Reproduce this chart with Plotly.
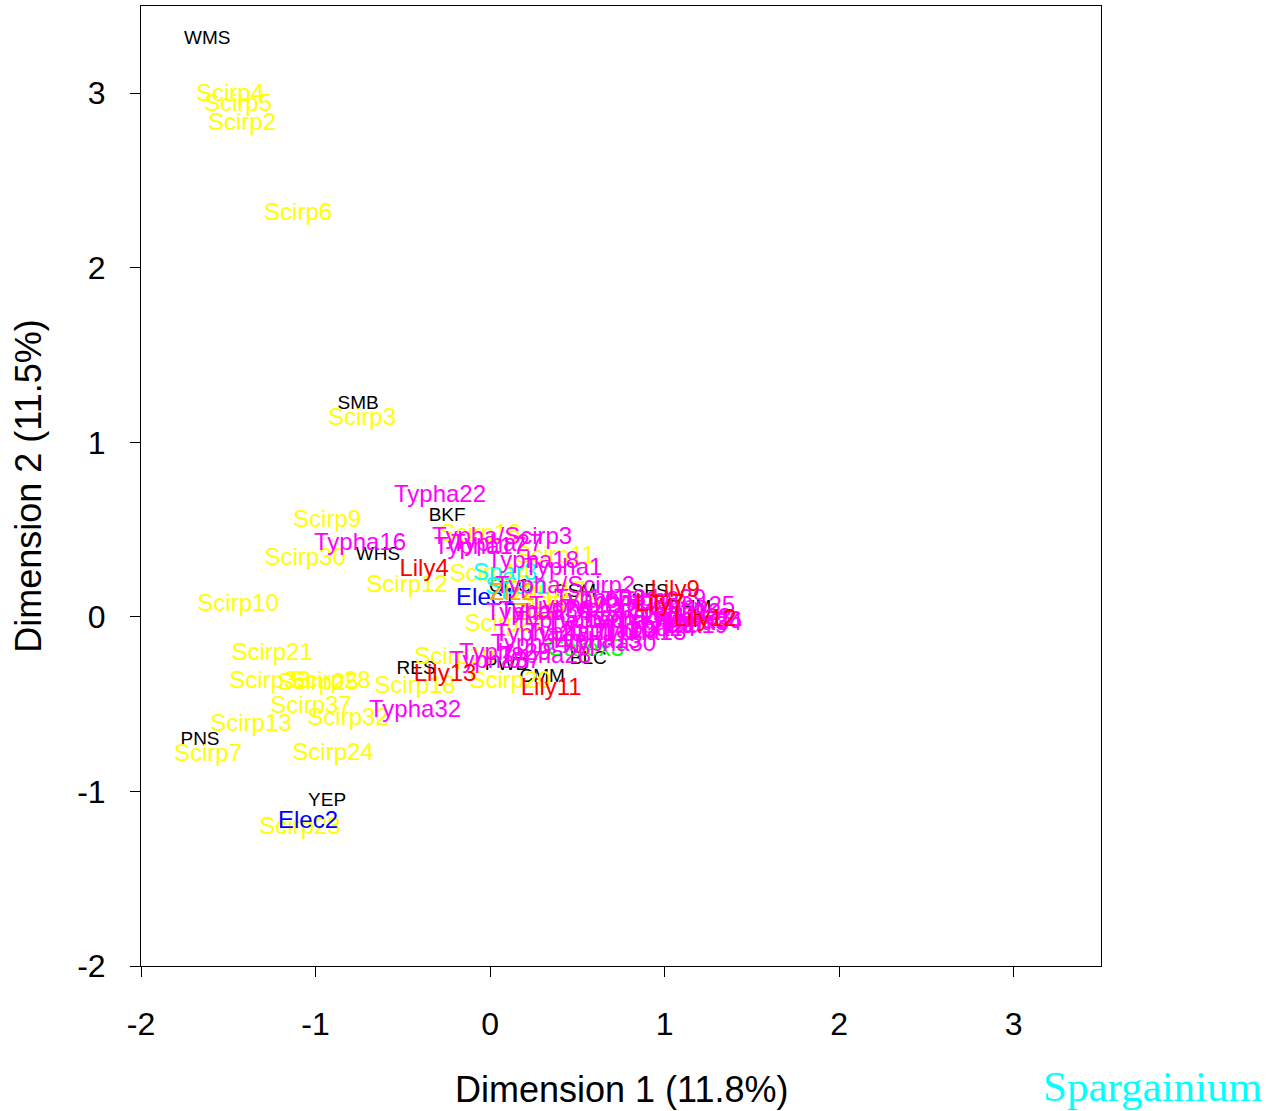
import plotly.graph_objects as go

# site labels (black)
site_names = ["WMS", "SMB", "BKF", "WHS", "RES", "PWD", "CMM", "PNS", "YEP",
              "BLC", "SFS", "CSM", "BHM", "LMP", "GCC"]
site_x = [-1.62, -0.756, -0.246, -0.642, -0.424, 0.097, 0.298, -1.662, -0.934,
          0.562, 0.917, 0.487, 1.146, 1.123, 0.115]
site_y = [3.31, 1.22, 0.578, 0.355, -0.299, -0.276, -0.344, -0.705, -1.055,
          -0.241, 0.143, 0.143, 0.051, -0.029, 0.171]

# Scirpus samples (yellow)
scirp_names = ["Scirp4", "Scirp5", "Scirp2", "Scirp6", "Scirp3", "Scirp9", "Scirp30",
               "Scirp12", "Scirp10", "Scirp21", "Scirp33", "Scirp25", "Scirp28",
               "Scirp37", "Scirp32", "Scirp13", "Scirp7", "Scirp24", "Scirp23",
               "Scirp18", "Scirp19", "Scirp20", "Scirp16", "Scirp11", "Scirp14",
               "Scirp27", "Scirp15", "Scirp17"]
scirp_x = [-1.490, -1.444, -1.421, -1.100, -0.734, -0.934, -1.060,
           -0.476, -1.444, -1.249, -1.261, -0.986, -0.917,
           -1.026, -0.814, -1.370, -1.616, -0.900, -1.089,
           -0.430, -0.201, 0.115, -0.057, 0.372, 0.0,
           0.086, 0.401, 0.315]
scirp_y = [2.991, 2.934, 2.825, 2.309, 1.134, 0.550, 0.332,
           0.177, 0.068, -0.213, -0.373, -0.384, -0.373,
           -0.516, -0.585, -0.619, -0.791, -0.786, -1.210,
           -0.402, -0.236, -0.373, 0.469, 0.343, 0.240,
           -0.046, 0.085, 0.143]

# Typha samples (magenta)
typha_names = ["Typha22", "Typha16", "Typha/Scirp3", "Typha17", "Typha27", "Typha18",
               "Typha1", "Typha/Scirp2", "Typha32", "Typha2", "Typha3", "Typha6",
               "Typha8", "Typha9", "Typha10", "Typha11", "Typha12", "Typha13",
               "Typha14", "Typha15", "Typha19", "Typha20", "Typha23", "Typha24",
               "Typha25", "Typha26", "Typha30", "Typha31", "Typha33", "Typha34",
               "Typha35", "Typha36", "Typha5", "Typha4", "Typha21", "Typha28",
               "Typha29", "Typha37", "Typha38", "Typha39"]
typha_x = [-0.287, -0.745, 0.069, -0.057, 0.040, 0.246,
           0.418, 0.430, -0.430, 0.630, 0.745, 0.544,
           0.860, 0.946, 0.688, 0.458, 1.060, 0.860,
           0.774, 0.602, 1.100, 0.974, 0.487, 0.917,
           1.140, 1.180, 0.688, 0.802, 1.120, 1.180,
           0.401, 0.315, 0.201, 0.229, 0.287, 0.315,
           0.086, 0.029, 0.630, 0.974]
typha_y = [0.693, 0.418, 0.452, 0.395, 0.412, 0.315,
           0.275, 0.171, -0.539, 0.040, -0.001, -0.029,
           0.085, -0.058, -0.086, -0.098, 0.017, -0.098,
           0.085, -0.144, -0.058, 0.017, 0.057, -0.075,
           0.057, -0.029, -0.161, -0.029, -0.012, -0.041,
           -0.029, 0.028, 0.017, -0.161, -0.104, -0.230,
           -0.213, -0.258, 0.097, 0.097]

# Lily samples (red)
lily_names = ["Lily4", "Lily13", "Lily11", "Lily9", "Lily12", "Lily7"]
lily_x = [-0.378, -0.258, 0.350, 1.060, 1.232, 0.974]
lily_y = [0.269, -0.333, -0.413, 0.148, -0.018, 0.068]

# Eleocharis (blue)
elec_names = ["Elec2", "Elec1"]
elec_x = [-1.043, -0.023]
elec_y = [-1.175, 0.103]

# Sparganium (cyan)
spar_names = ["Spar3", "Spar1"]
spar_x = [0.086, 0.155]
spar_y = [0.246, 0.166]

# Zizania (orange)
ziz_names = ["Ziz2", "Ziz1"]
ziz_x = [0.126, 0.258]
ziz_y = [0.131, 0.017]

# Carex (green)
carex_names = ["Carex3"]
carex_x = [0.546]
carex_y = [-0.190]

tick_vals = [-2, -1, 0, 1, 2, 3]
tick_text = ["-2", "-1", "0", "1", "2", "3"]

font = "Liberation Sans, Arial, sans-serif"


def labels(xs, ys, names, color, size):
    return go.Scatter(x=xs, y=ys, text=names, mode="text",
                      textposition="middle center",
                      textfont=dict(family=font, size=size, color=color),
                      hoverinfo="skip", showlegend=False)


fig = go.Figure()
fig.add_trace(labels(site_x, site_y, site_names, "black", 19))
fig.add_trace(labels(scirp_x, scirp_y, scirp_names, "#FFFF00", 24))
fig.add_trace(labels(elec_x, elec_y, elec_names, "#0000FF", 24))
fig.add_trace(labels(spar_x, spar_y, spar_names, "#00FFFF", 24))
fig.add_trace(labels(ziz_x, ziz_y, ziz_names, "#FFA500", 24))
fig.add_trace(labels(carex_x, carex_y, carex_names, "#00FF00", 24))
fig.add_trace(labels(typha_x, typha_y, typha_names, "#FF00FF", 24))
fig.add_trace(labels(lily_x, lily_y, lily_names, "#FF0000", 24))

axis = dict(range=[-2, 3.5], tickvals=tick_vals, ticktext=tick_text, ticks="outside",
            ticklen=10, tickcolor="black", showgrid=False, zeroline=False,
            showline=True, mirror=True, linecolor="black", linewidth=1,
            tickfont=dict(family=font, size=32, color="black"))

fig.update_layout(
    width=1266, height=1111,
    margin=dict(l=141, r=165, t=6, b=145),
    plot_bgcolor="white", paper_bgcolor="white",
    xaxis=dict(axis, ticklabelstandoff=20),
    yaxis=dict(axis, ticklabelstandoff=18),
    annotations=[
        dict(text="Dimension 1 (11.8%)", xref="paper", yref="paper", x=0.5, y=-0.129,
             xanchor="center", yanchor="middle", showarrow=False,
             font=dict(family=font, size=36, color="black")),
        dict(text="Dimension 2 (11.5%)", xref="paper", yref="paper", x=-0.118, y=0.5,
             xanchor="center", yanchor="middle", textangle=-90, showarrow=False,
             font=dict(family=font, size=36, color="black")),
        dict(text="Spargainium", xref="paper", yref="paper", x=1.054, y=-0.126,
             xanchor="center", yanchor="middle", showarrow=False,
             font=dict(family="Liberation Serif, Times New Roman, serif",
                       size=43, color="#00FFFF")),
    ],
)

fig.write_html("out.html", config={"displayModeBar": False},
               post_script="document.body.style.margin='0';")
